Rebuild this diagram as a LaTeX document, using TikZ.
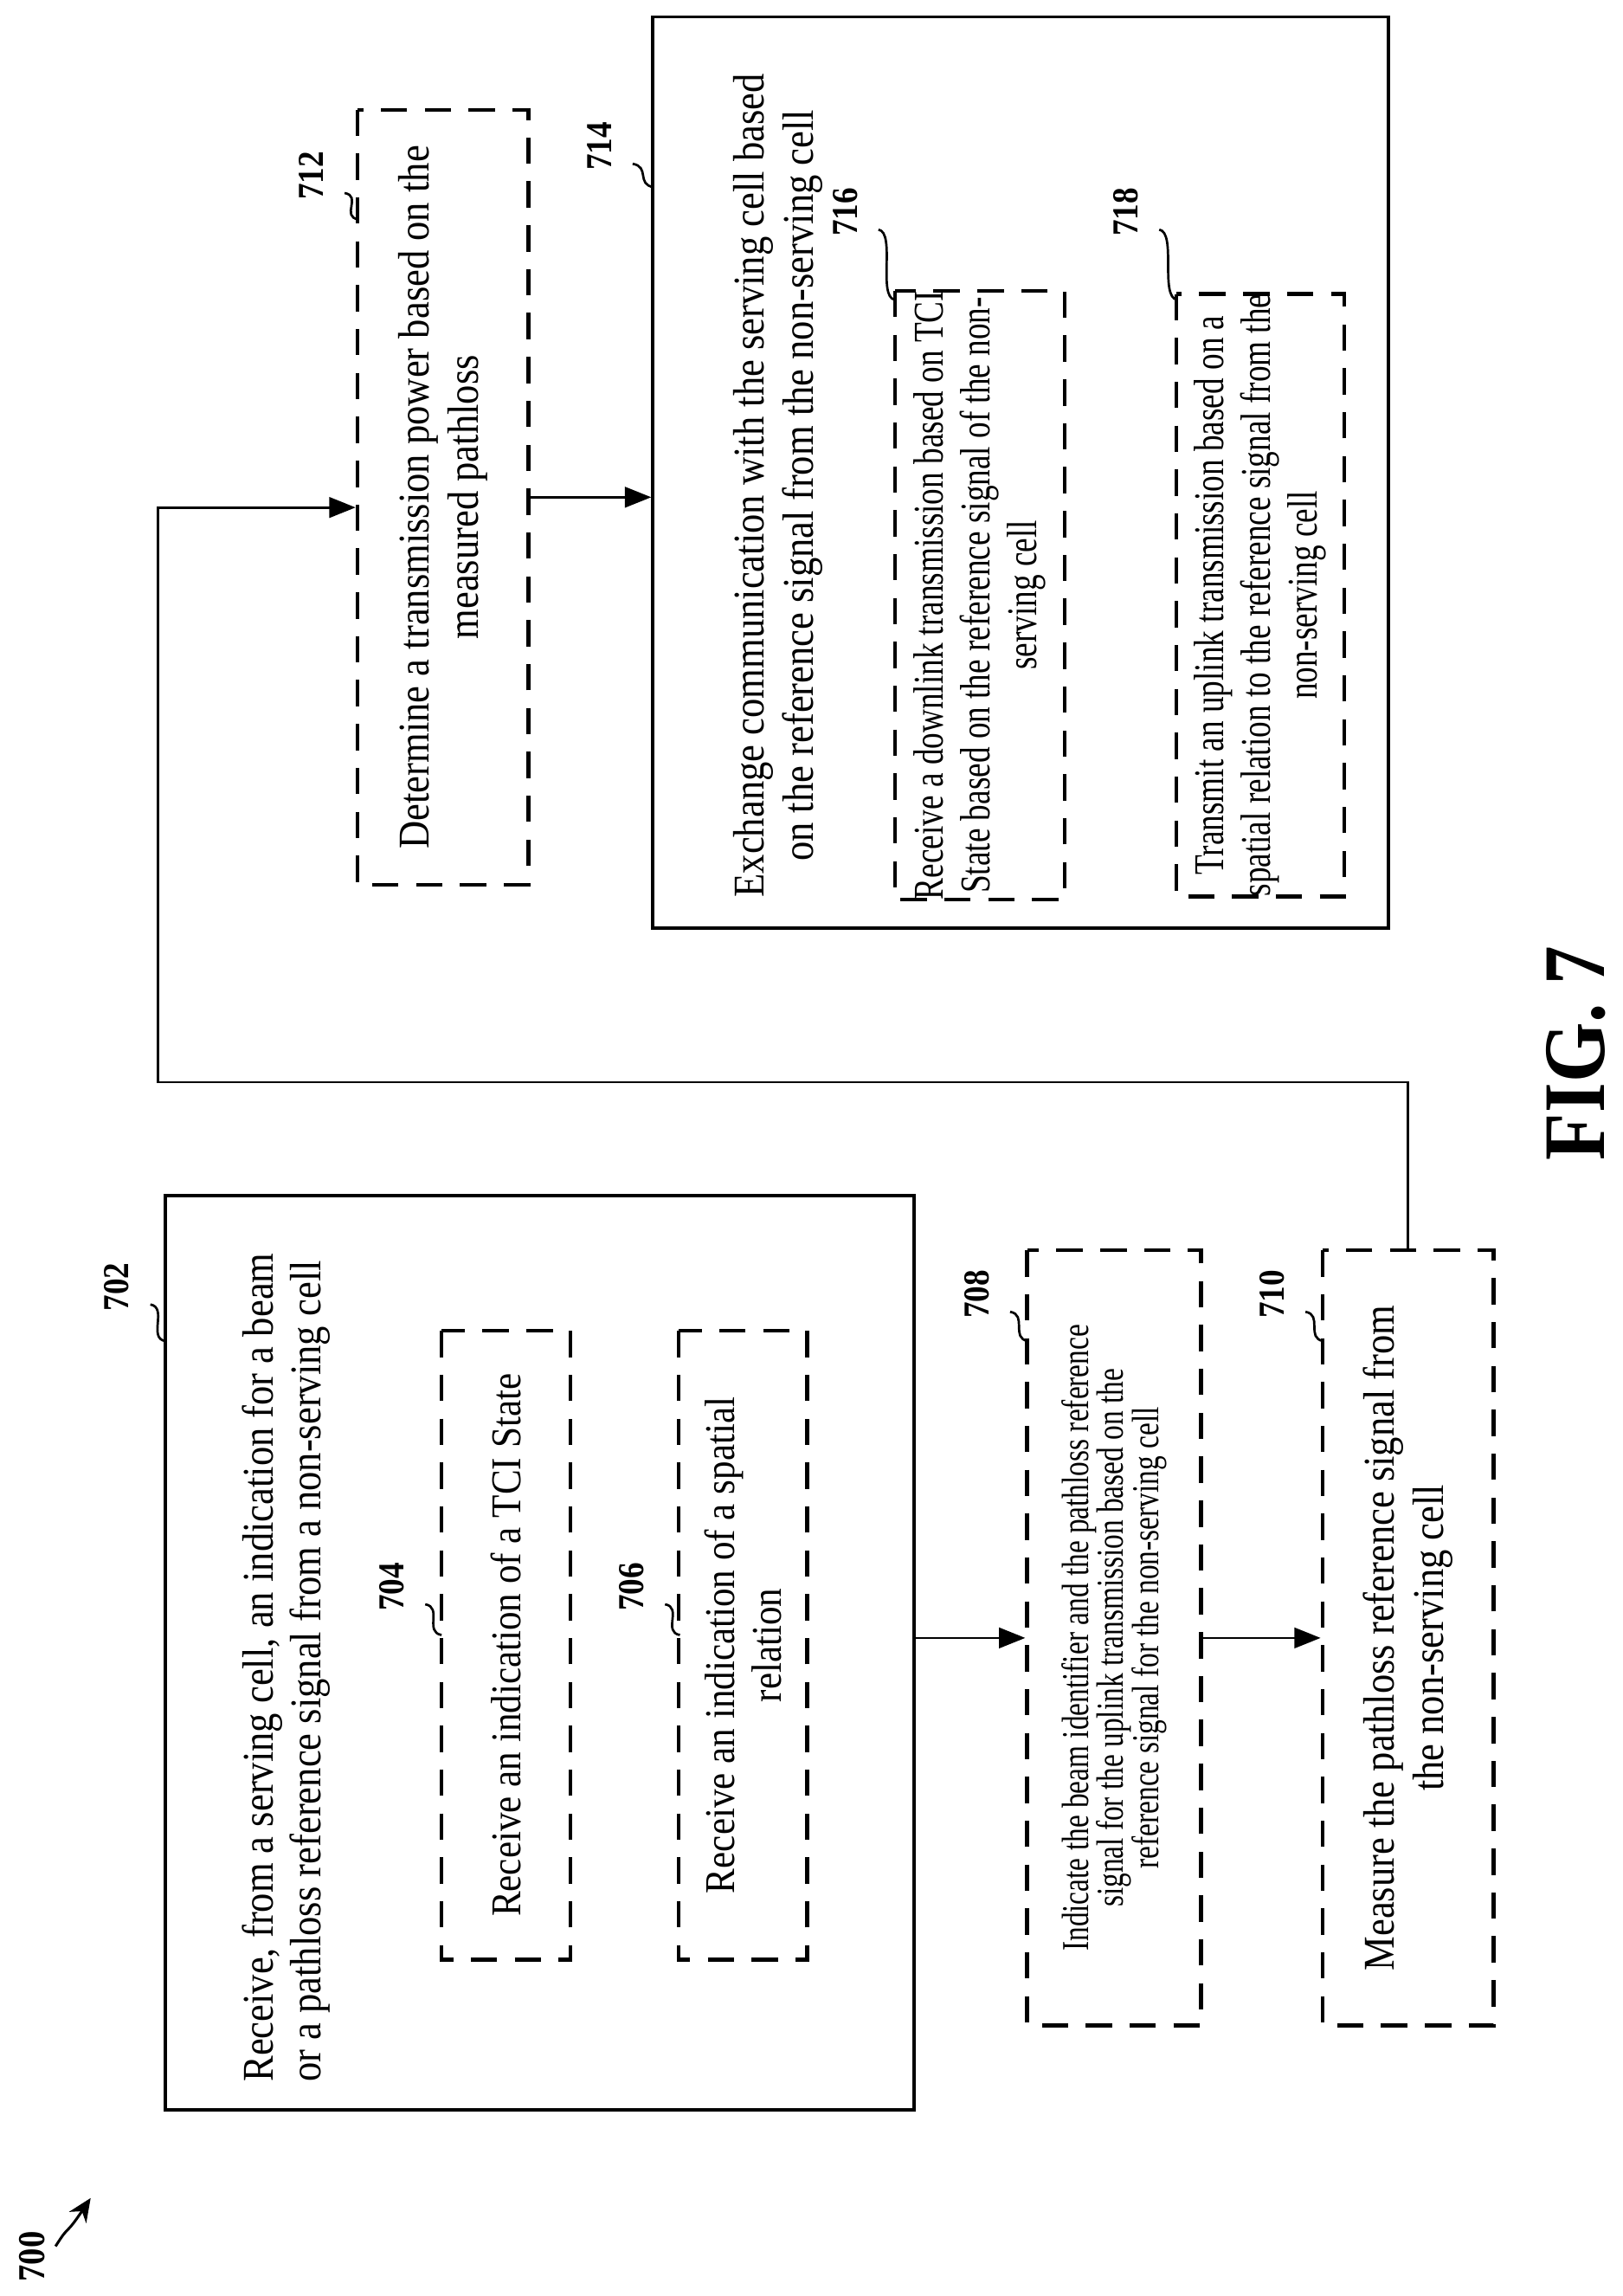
\documentclass[tikz,border=0pt]{standalone}
\usepackage{fontspec}
\setmainfont{Liberation Serif}[FakeStretch=0.88]
\newfontfamily\cond{Liberation Serif}[FakeStretch=0.76]
\usetikzlibrary{arrows.meta}
\begin{document}
\begin{tikzpicture}[x=0.5pt,y=-0.5pt,
  solidbox/.style={draw,line width=1.1pt,rotate=90,inner sep=0pt},
  dbox/.style={draw,line width=1.3pt,dash pattern=on 9pt off 6pt,rotate=90,align=center,inner sep=0pt,font=\fontsize{15}{16.5}\selectfont},
  txt/.style={rotate=90,align=center,font=\fontsize{15}{16.5}\selectfont,inner sep=0pt},
  lab/.style={rotate=90,font=\bfseries\fontsize{12.5}{13}\selectfont,inner sep=1pt},
  sq/.style={line width=0.8pt},
  arr/.style={line width=0.8pt,-{Triangle[length=9pt,width=7pt]}}]
\useasboundingbox (0,0) rectangle (1110,1570);
% boxes
\node[solidbox,minimum width=312.5pt,minimum height=256pt] (b702) at (369,1130) {};
\node[txt,anchor=north west,align=left] (t702) at (165,1424) {Receive, from a serving cell, an indication for a beam\\or a pathloss reference signal from a non-serving cell};
\node[dbox,minimum width=215pt,minimum height=44pt,font=\fontsize{14.5}{16}\selectfont] (b704) at (346,1125) {Receive an indication of a TCI State};
\node[dbox,minimum width=215pt,minimum height=44pt,font=\fontsize{14.5}{16}\selectfont] (b706) at (508,1125) {Receive an indication of a spatial\\relation};
\node[dbox,minimum width=265pt,minimum height=59.5pt,font=\cond\fontsize{13}{12}\selectfont] (b708) at (762,1120) {Indicate the beam identifier and the pathloss reference\\signal for the uplink transmission based on the\\reference signal for the non-serving cell};
\node[dbox,minimum width=265pt,minimum height=58.5pt,font=\fontsize{15}{17}\selectfont] (b710) at (963,1120) {Measure the pathloss reference signal from\\the non-serving cell};
\node[dbox,minimum width=265pt,minimum height=58.5pt,font=\fontsize{15}{17}\selectfont] (b712) at (303,340) {Determine a transmission power based on the\\measured pathloss};
\node[solidbox,minimum width=311.5pt,minimum height=251.5pt] (b714) at (698,323) {};
\node[txt,font=\fontsize{15}{17}\selectfont] (t714) at (532,332) {Exchange communication with the serving cell based\\on the reference signal from the non-serving cell};
\node[dbox,minimum width=197.5pt,minimum height=58pt,font=\cond\fontsize{14.5}{16}\selectfont] (b716) at (670,407) {Receive a downlink transmission based on TCI\\State based on the reference signal of the non-\\serving cell};
\node[dbox,minimum width=197.5pt,minimum height=57.5pt,font=\cond\fontsize{14.5}{16}\selectfont] (b718) at (862,407) {Transmit an uplink transmission based on a\\spatial relation to the reference signal from the\\non-serving cell};
% connectors
\draw[arr] (b702.south |- 0,1120) -- (b708.north |- 0,1120);
\draw[arr] (b708.south |- 0,1120) -- (b710.north |- 0,1120);
\coordinate (c1) at (963,740);
\coordinate (c2) at (108,740);
\coordinate (c3) at (108,347);
\draw[arr] (b710.east) -- (c1) -- (c2) -- (c3) -- (b712.north |- c3);
\draw[arr] (b712.south |- 0,340) -- (b714.north |- 0,340);
% labels
\node[lab] (l702) at (80,880) {702};
\node[lab] (l704) at (268,1085) {704};
\node[lab] (l706) at (432,1085) {706};
\node[lab] (l708) at (668,885) {708};
\node[lab] (l710) at (870,885) {710};
\node[lab] (l712) at (213,120) {712};
\node[lab] (l714) at (410,100) {714};
\node[lab] (l716) at (578,145) {716};
\node[lab] (l718) at (770,145) {718};
\coordinate (s702) at (113,917);
\coordinate (s704) at (302,1118);
\coordinate (s706) at (465,1118);
\coordinate (s708) at (703,917);
\coordinate (s710) at (905,917);
\coordinate (s712) at (245,150);
\coordinate (s714) at (447,128);
\coordinate (s716) at (612,205);
\coordinate (s718) at (805,205);
\foreach \n in {702,704,706,708,710,712,714,716,718}{
  \draw[sq] ([xshift=6pt,yshift=-6pt]l\n.south) .. controls +(12,2) and +(-12,-2) .. (s\n);
}
\node[lab,font=\bfseries\fontsize{13}{14}\selectfont] (l700) at (22,1543) {700};
\coordinate (a700) at (62,1503);
\draw[line width=0.9pt,-{Stealth[length=8pt,width=7pt]}] (38,1536) .. controls (48,1520) and (44,1530) .. (a700);
\node[rotate=90,font=\bfseries\fontsize{30}{34}\selectfont] (fig) at (1078,720) {FIG. 7};
\end{tikzpicture}
\end{document}
